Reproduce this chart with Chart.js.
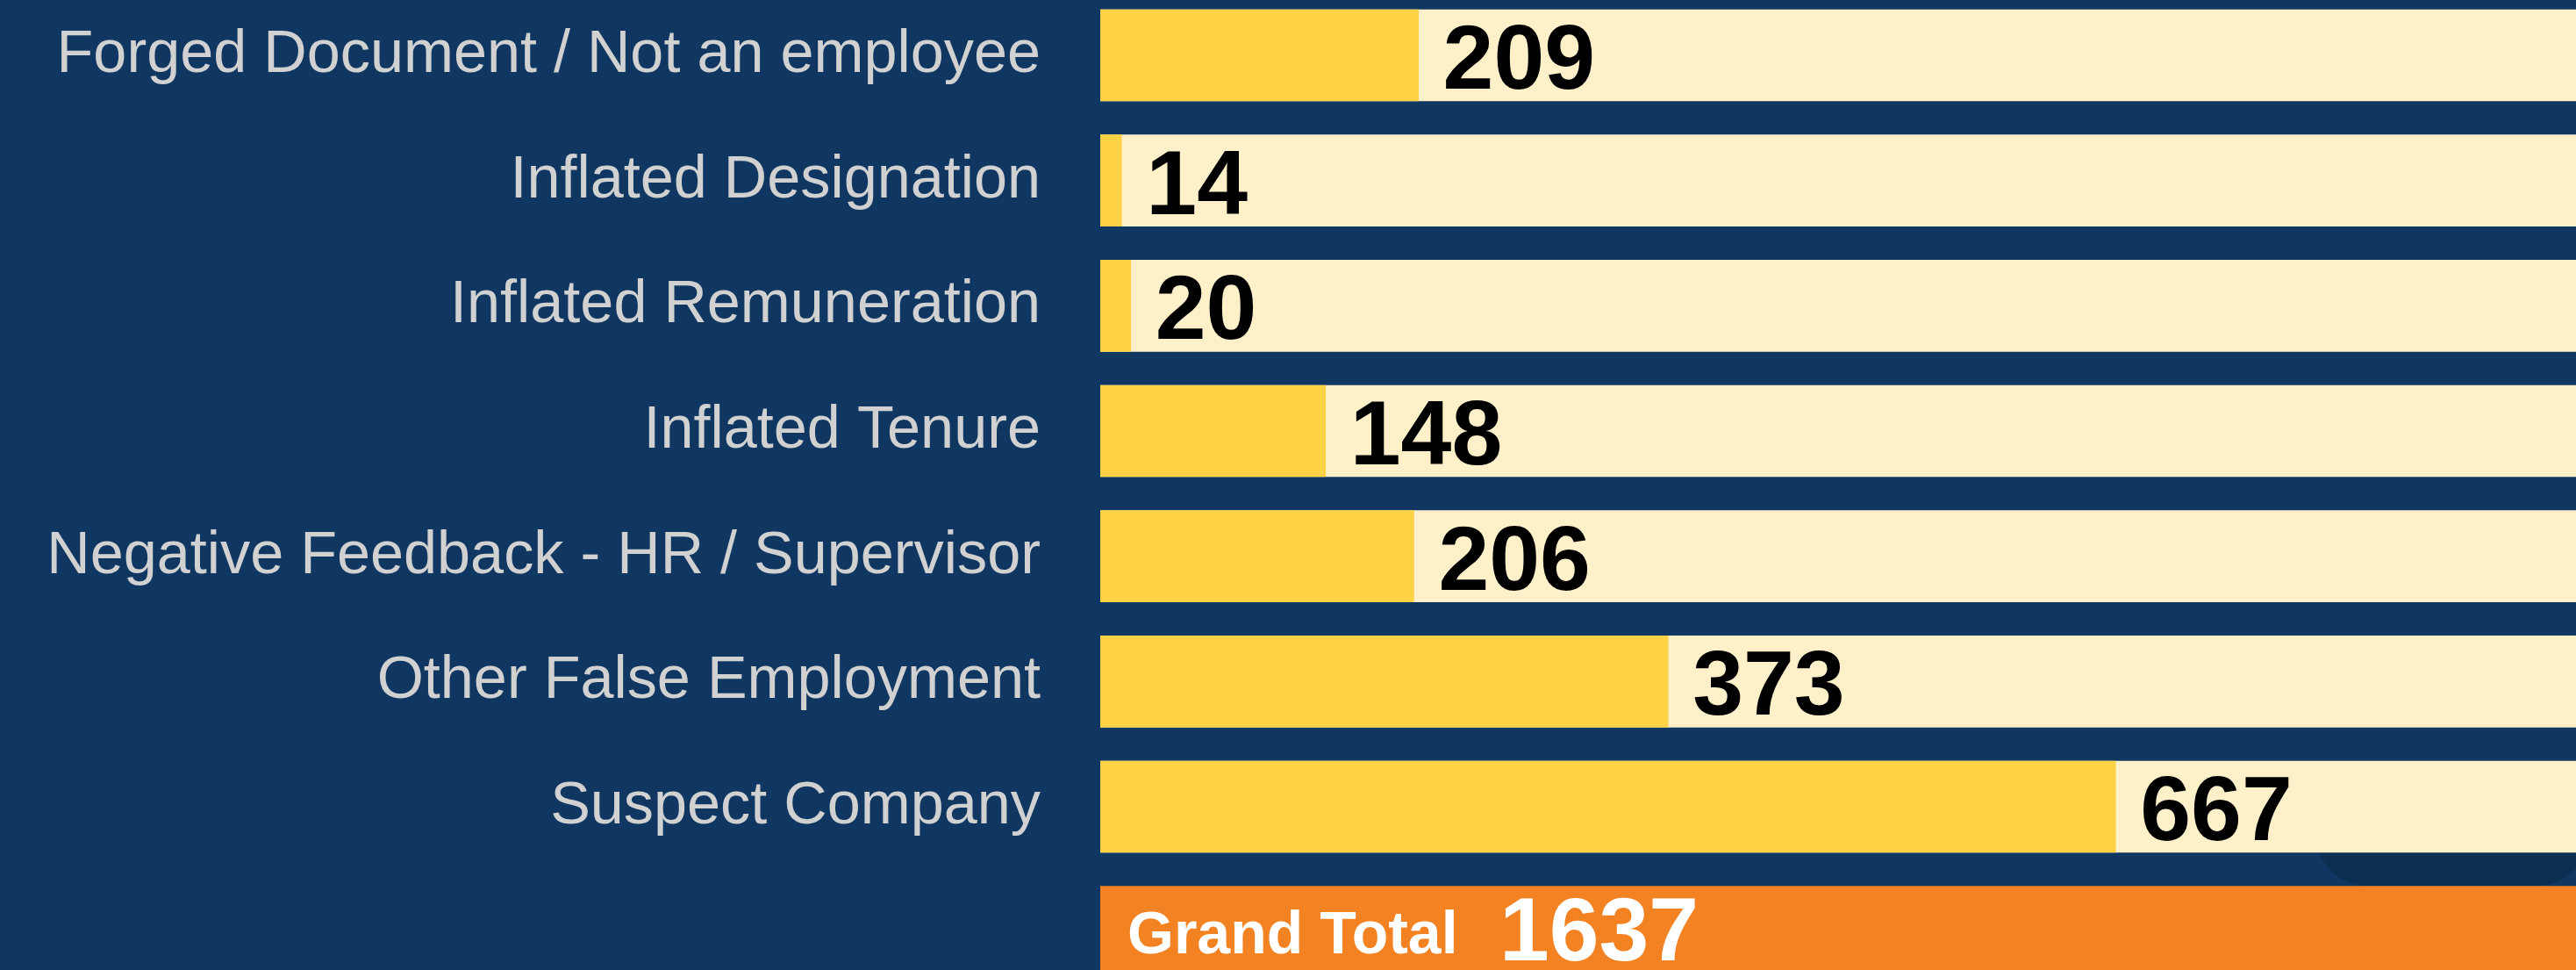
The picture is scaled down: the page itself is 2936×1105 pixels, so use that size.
<!DOCTYPE html>
<html>
<head>
<meta charset="utf-8">
<script src="https://cdn.jsdelivr.net/npm/chart.js@4/dist/chart.umd.min.js"></script>
<style>
  html, body { margin: 0; padding: 0; width: 2936px; height: 1105px; overflow: hidden; background: #0f3761; }
  #wrap { position: absolute; left: 0; top: -40px; width: 2990px; height: 1180px; }
  canvas { display: block; }
</style>
</head>
<body>
<div id="wrap"><canvas id="c" width="2990" height="1180"></canvas></div>
<script>
// ---- data ----
const CATEGORIES = [
  'Forged Document / Not an employee',
  'Inflated Designation',
  'Inflated Remuneration',
  'Inflated Tenure',
  'Negative Feedback - HR / Supervisor',
  'Other False Employment',
  'Suspect Company'
];
const VALUES = [209, 14, 20, 148, 206, 373, 667];
const TOTAL_LABEL = 'Grand Total';
const GRAND_TOTAL = 1637;
const AXIS_MAX = 1000;

// ---- derived tables for the library ----
const rowLabels = CATEGORIES.concat(['']);            // last row hosts the grand total band
const trackData = rowLabels.map(() => AXIS_MAX);
const valueData = VALUES.concat([null]);
const trackColors = rowLabels.map((_, i) => i < CATEGORIES.length ? '#fef0c8' : '#f38322');

const FONT = '"Liberation Sans", Arial, Helvetica, sans-serif';

const decor = {
  id: 'decor',
  beforeDatasetsDraw(chart) {
    const ctx = chart.ctx;
    ctx.save();
    ctx.fillStyle = '#0a2f51';
    ctx.beginPath();
    ctx.roundRect(2640, 920, 310, 129, 58);
    ctx.fill();
    ctx.restore();
  }
};

const labels = {
  id: 'valueLabels',
  afterDatasetsDraw(chart) {
    const ctx = chart.ctx;
    const meta = chart.getDatasetMeta(1);
    ctx.save();
    ctx.textBaseline = 'alphabetic';
    ctx.textAlign = 'left';
    ctx.fillStyle = '#000000';
    ctx.font = 'bold 104px ' + FONT;
    meta.data.forEach((bar, i) => {
      const v = VALUES[i];
      if (v === undefined || v === null) return;
      ctx.fillText(String(v), bar.x + 28, bar.y + 38);
    });
    const trackMeta = chart.getDatasetMeta(0);
    const gt = trackMeta.data[CATEGORIES.length];
    const left = chart.chartArea.left;
    ctx.fillStyle = '#ffffff';
    ctx.font = 'bold 68px ' + FONT;
    ctx.fillText(TOTAL_LABEL, left + 31, gt.y + 24);
    ctx.font = 'bold 102px ' + FONT;
    ctx.fillText(String(GRAND_TOTAL), left + 455, gt.y + 32);
    ctx.restore();
  }
};

new Chart(document.getElementById('c'), {
  type: 'bar',
  data: {
    labels: rowLabels,
    datasets: [
      { label: 'track', data: trackData, backgroundColor: trackColors, barThickness: 104, grouped: false, order: 1, borderWidth: 0 },
      { label: 'value', data: valueData, backgroundColor: '#fdd244', barThickness: 104, grouped: false, order: 0, borderWidth: 0 }
    ]
  },
  options: {
    indexAxis: 'y',
    responsive: false,
    animation: false,
    layout: { padding: { left: 0, right: 1, top: 31.67, bottom: 7 } },
    plugins: { legend: { display: false }, tooltip: { enabled: false } },
    scales: {
      x: { display: false, min: 0, max: AXIS_MAX },
      y: {
        offset: true,
        grid: { display: false, drawTicks: false },
        border: { display: false },
        afterFit(scale) {
          scale.width = 1254;
          scale.paddingTop = 0;
          scale.paddingBottom = 0;
        },
        ticks: {
          autoSkip: false,
          padding: 68,
          labelOffset: 0,
          color: '#d1d1d1',
          font: { family: FONT, size: 68.4 }
        }
      }
    }
  },
  plugins: [decor, labels]
});
</script>
</body>
</html>
